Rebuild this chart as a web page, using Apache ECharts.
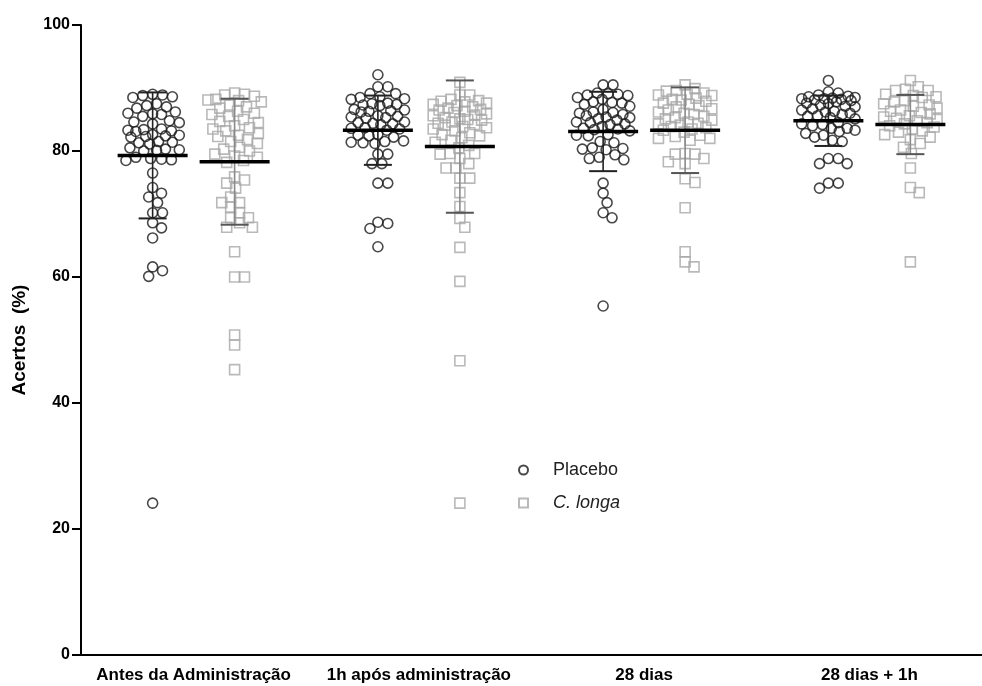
<!DOCTYPE html>
<html>
<head>
<meta charset="utf-8">
<script src="https://cdn.jsdelivr.net/npm/echarts@6/dist/echarts.min.js"></script>
<style>
  html, body { margin: 0; padding: 0; background: #fff; }
  #chart { width: 982px; height: 686px; }
</style>
</head>
<body>
<div id="chart"></div>
<script>
// ---- DATA ----
const categories = ['Antes da Administração', '1h após administração', '28 dias', '28 dias + 1h'];
const yTicks = [0, 20, 40, 60, 80, 100];

const placeboAntes = [89, 88.8, 88.6, 88.5, 88.9, 87.5, 87.2, 87, 86.8, 86.2, 86, 85.8, 85.5, 85.9,
  84.8, 84.5, 84.3, 84.6, 83.5, 83.3, 83.1, 83.4, 83.2, 82.6, 82.4, 82.2, 82.5, 82.3,
  81.5, 81.3, 81.1, 81.4, 80.5, 80.2, 80, 80.3, 80.1, 79, 78.7, 78.5, 78.8, 78.6, 76.5,
  73.3, 74.2, 72.7, 71.8, 70.2, 70.2, 68.6, 67.8, 66.2, 61, 60.1, 61.6, 24.1];
const placebo1h = [92.1, 90.2, 90.2, 89.1, 89.1, 88.5, 88.3, 88.6, 88.2, 87.6, 87.4, 87.2, 87.5, 87.3,
  86.6, 86.4, 86.2, 86.5, 86.3, 85.6, 85.4, 85.3, 85.5, 85.2, 84.6, 84.4, 84.3, 84.5, 84.2,
  83.7, 83.5, 83.3, 83.6, 82.6, 82.4, 82.2, 82.5, 81.6, 81.4, 81.2, 81.5, 81.3,
  79.5, 79.5, 78, 78, 74.9, 74.9, 68.5, 67.7, 68.7, 64.8];
const placebo28 = [90.5, 90.5, 89.2, 89, 88.8, 89.1, 88.9, 88.5, 88.2, 87.8, 87.6, 87.4, 87.7, 87.1,
  86.6, 86.2, 86, 85.8, 86.1, 85.6, 85.3, 85.1, 85.4, 84.9, 84.5, 84.3, 84.6, 84.2, 83.9,
  83.6, 83.4, 83.5, 83.2, 82.6, 82.4, 82.5, 81.5, 81.3, 80.5, 80.3, 80.4, 80.2,
  79.4, 79.0, 78.8, 78.6, 74.9, 73.3, 71.8, 70.2, 69.4, 55.4];
const placebo28h = [91.2, 89.2, 89.4, 88.9, 88.6, 88.4, 88.3, 88.5, 88.2, 88.7, 88.1, 88.0, 88.3,
  87.8, 87.5, 87.3, 87.6, 87.1, 87.0, 86.7, 86.5, 86.2, 86.3, 86.0, 85.8, 85.5, 85.3, 85.6, 85.1,
  84.5, 84.2, 84.3, 84.0, 83.6, 83.6, 83.3, 83.1, 82.8, 82.5, 82.2, 81.7, 81.5,
  78.8, 78.0, 78.0, 78.8, 74.9, 74.1, 74.9];

const longaAntes = [89.0, 89.2, 88.9, 88.7, 88.2, 88, 87.8, 88.1, 87.3, 87, 86.8, 86.3, 86, 85.8, 85.5,
  85, 84.7, 84.5, 84, 83.7, 83.5, 83.2, 82.8, 82.5, 82.3, 81.8, 81.5, 81.2, 80.6, 80.3, 80,
  79.5, 79.2, 79, 78.5, 78.2, 75.9, 75.4, 74.9, 74.1, 72.7, 71.8, 71.8, 71.1, 70.2, 69.4, 69.4,
  68.6, 67.9, 67.9, 64.0, 60.0, 60.0, 50.8, 49.2, 45.3];
const longa1h = [90.9, 88.9, 88.9, 88.2, 88, 87.9, 87.8, 87.6, 87.4, 87.2, 87, 86.8, 86.6, 86.5, 86.3, 86.1,
  85.9, 85.7, 85.6, 85.3, 85.1, 85.0, 84.9, 84.6, 84.4, 84.2, 84.1, 83.9, 83.7, 83.5, 83.2, 82.9,
  82.6, 82.4, 82.1, 81.7, 81.4, 80.9, 80.5, 79.6, 79.6, 79.5, 78.8, 78.0,
  77.3, 77.3, 75.7, 75.7, 73.4, 71.2, 69.3, 67.9, 64.7, 59.3, 46.7, 24.1];
const longa28 = [90.5, 89.9, 89.6, 89.5, 89.2, 89, 88.9, 88.8, 88.4, 88.2, 88.1, 87.9, 87.6, 87.4,
  87.2, 87, 86.7, 86.5, 86.2, 86, 85.8, 85.5, 85.3, 85.1, 84.9, 84.6, 84.4, 84.3, 84.1, 83.9,
  83.7, 83.5, 83.3, 83.0, 82.5, 82.0, 82.0, 81.7, 82.3, 79.6, 79.5, 79.5, 78.8, 78.3, 78.0,
  75.6, 75.0, 71.0, 64.0, 62.4, 61.6];
const longa28h = [91.2, 90.2, 89.8, 89.6, 89.6, 89.0, 88.8, 88.6, 88.5, 88.0, 87.8, 87.5, 87.3, 87.1,
  86.8, 86.5, 86.3, 86.1, 85.9, 85.6, 85.4, 85.2, 85.0, 84.8, 84.5, 84.3, 84.0, 83.8,
  83.5, 83.2, 83.0, 82.6, 82.2, 81.8, 81.2, 80.6, 79.6, 77.3, 74.2, 73.4, 62.4];

const placeboMean = [79.3, 83.3, 83.1, 84.8];
const placeboSD = [10.0, 5.5, 6.3, 4.0];
const longaMean = [78.3, 80.7, 83.3, 84.2];
const longaSD = [10.0, 10.5, 6.8, 4.7];

// ---- LAYOUT ----
const W = 982, H = 686;
const GRID = { left: 81, right: -11, top: 25, bottom: 31 };
const plotW = W - GRID.left - GRID.right;
const plotH = H - GRID.top - GRID.bottom;
const pxPerX = plotW / categories.length;
const pxPerY = plotH / 100;
const OFFSET = 0.182; // half distance between the two columns (axis units)

// simple beeswarm: spread points horizontally so they don't overlap too much
function swarm(values, center) {
  const D = 10, MAXW = 27;
  const order = values.map((v, i) => i).sort((a, b) => values[b] - values[a]);
  const placed = [];
  const out = new Array(values.length);
  for (const i of order) {
    const py = values[i] * pxPerY;
    let chosen = null, bestOff = 0, bestScore = -1;
    for (let k = 0; k <= 2 * MAXW; k++) {
      const off = (k % 2 ? 1 : -1) * Math.ceil(k / 2);
      let md = Infinity;
      for (const p of placed) {
        const d = Math.hypot(p.x - off, p.y - py);
        if (d < md) md = d;
      }
      if (md >= D) { chosen = off; break; }
      if (md > bestScore) { bestScore = md; bestOff = off; }
    }
    if (chosen === null) chosen = bestOff;
    placed.push({ x: chosen, y: py });
    out[i] = [center + chosen / pxPerX, values[i]];
  }
  return out;
}

const placeboGroups = [placeboAntes, placebo1h, placebo28, placebo28h];
const longaGroups = [longaAntes, longa1h, longa28, longa28h];

const placeboData = [];
placeboGroups.forEach((g, gi) => placeboData.push(...swarm(g, gi + 0.5 - OFFSET)));
const longaData = [];
longaGroups.forEach((g, gi) => longaData.push(...swarm(g, gi + 0.5 + OFFSET)));

const barData = [];
placeboMean.forEach((m, i) => barData.push([i + 0.5 - OFFSET, m, placeboSD[i], 0]));
longaMean.forEach((m, i) => barData.push([i + 0.5 + OFFSET, m, longaSD[i], 1]));

const FONT = '"Liberation Sans", Arial, sans-serif';

const chart = echarts.init(document.getElementById('chart'), null, { renderer: 'canvas' });
chart.setOption({
  animation: false,
  backgroundColor: '#fff',
  grid: GRID,
  legend: {
    data: ['Placebo', 'C. longa'],
    orient: 'vertical',
    left: 518,
    top: 459,
    itemWidth: 9,
    itemHeight: 9,
    itemGap: 11,
    padding: 0,
    textStyle: {
      fontFamily: FONT, fontSize: 18, color: '#222', lineHeight: 22,
      rich: {
        n: { fontFamily: FONT, fontSize: 18, color: '#222', padding: [0, 0, 0, 20] },
        i: { fontStyle: 'italic', fontFamily: FONT, fontSize: 18, color: '#222', padding: [0, 0, 0, 20] }
      }
    },
    formatter: n => n === 'C. longa' ? '{i|C. longa}' : '{n|' + n + '}'
  },
  xAxis: [
    {
      type: 'category',
      data: categories,
      boundaryGap: true,
      axisLine: { lineStyle: { color: '#000', width: 2 } },
      axisTick: { alignWithLabel: true, length: 7, lineStyle: { color: '#000', width: 2 } },
      axisLabel: { color: '#000', fontFamily: FONT, fontSize: 17, fontWeight: 'bold', margin: 12, interval: 0 },
      splitLine: { show: false }
    },
    { type: 'value', min: 0, max: categories.length, show: false }
  ],
  yAxis: {
    type: 'value',
    min: 0, max: 100, interval: 20,
    name: 'Acertos  (%)',
    nameLocation: 'middle',
    nameRotate: 90,
    nameGap: 52,
    nameTextStyle: { color: '#000', fontFamily: FONT, fontSize: 19, fontWeight: 'bold' },
    axisLine: { show: true, lineStyle: { color: '#000', width: 2 } },
    axisTick: { show: true, length: 9, lineStyle: { color: '#000', width: 2 } },
    axisLabel: {
      color: '#000', fontFamily: FONT, fontSize: 16, fontWeight: 'bold', margin: 11,
      formatter: v => yTicks.indexOf(v) >= 0 ? String(v) : ''
    },
    splitLine: { show: false }
  },
  series: [
    {
      name: 'Placebo',
      type: 'scatter',
      xAxisIndex: 1,
      symbol: 'circle',
      symbolSize: 10,
      itemStyle: { color: 'rgba(255,255,255,0)', borderColor: '#1a1a1a', borderWidth: 1.6 },
      data: placeboData,
      z: 2
    },
    {
      name: 'C. longa',
      type: 'scatter',
      xAxisIndex: 1,
      symbol: 'rect',
      symbolSize: 10,
      itemStyle: { color: 'rgba(255,255,255,0)', borderColor: '#a8a8a8', borderWidth: 1.6 },
      data: longaData,
      z: 2
    },
    {
      type: 'custom',
      xAxisIndex: 1,
      z: 5,
      silent: true,
      data: barData,
      renderItem: function (params, api) {
        const x = api.value(0), m = api.value(1), sd = api.value(2), kind = api.value(3);
        const top = api.coord([x, m + sd]);
        const bot = api.coord([x, m - sd]);
        const mid = api.coord([x, m]);
        const barColor = kind === 0 ? '#222' : '#8a8a8a';
        const capColor = kind === 0 ? '#222' : '#555';
        const cap = 14, half = 35;
        return {
          type: 'group',
          children: [
            { type: 'line', shape: { x1: top[0], y1: top[1], x2: bot[0], y2: bot[1] }, style: { stroke: barColor, lineWidth: 1.6 } },
            { type: 'line', shape: { x1: top[0] - cap, y1: top[1], x2: top[0] + cap, y2: top[1] }, style: { stroke: capColor, lineWidth: 2 } },
            { type: 'line', shape: { x1: bot[0] - cap, y1: bot[1], x2: bot[0] + cap, y2: bot[1] }, style: { stroke: capColor, lineWidth: 2 } },
            { type: 'line', shape: { x1: mid[0] - half, y1: mid[1], x2: mid[0] + half, y2: mid[1] }, style: { stroke: '#000', lineWidth: 3.5 } }
          ]
        };
      }
    }
  ]
});
</script>
</body>
</html>
